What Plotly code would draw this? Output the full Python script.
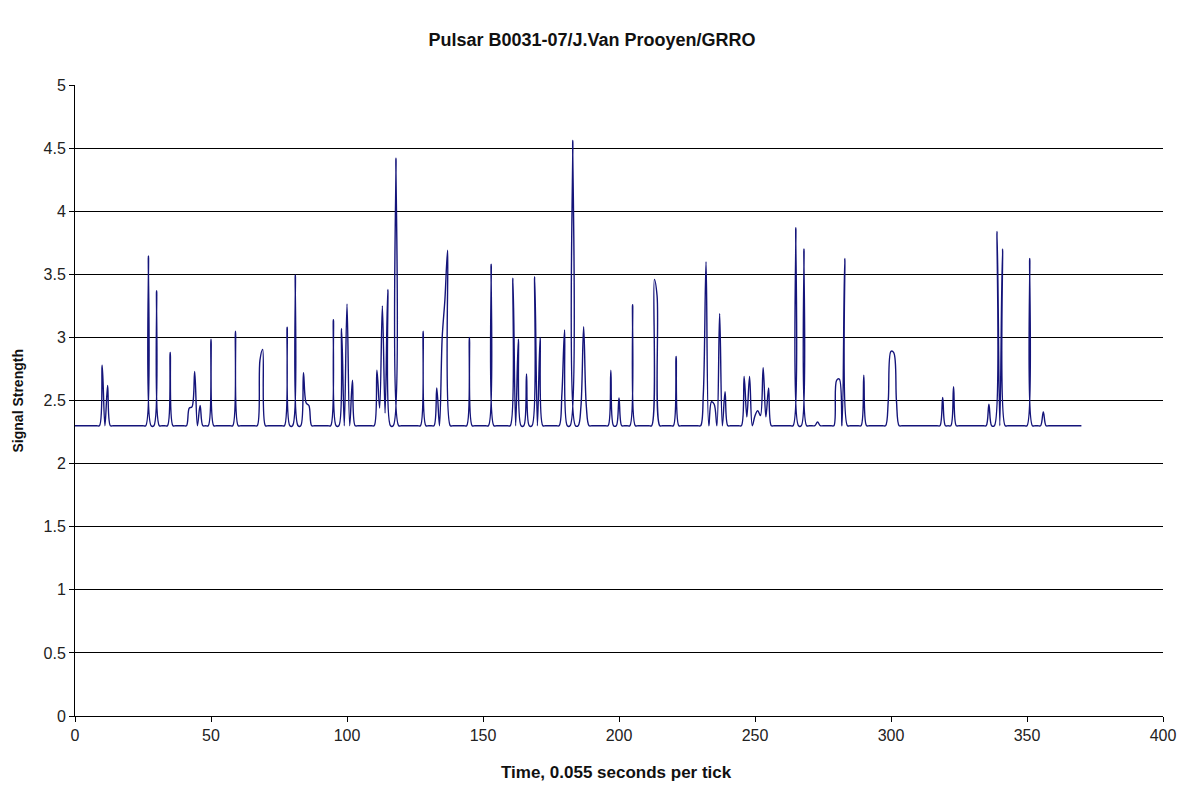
import plotly.graph_objects as go

# Sample index (one tick = 0.055 s) and recorded signal strength
n_ticks = 371
baseline_strength = 2.3

pulse_ticks = [
    10, 12, 27, 30, 35, 42, 43, 44, 46, 50, 59, 68, 69, 78, 81, 84, 85, 86,
    95, 98, 100, 102, 111, 112, 113, 114, 115, 118, 128, 133, 135, 136, 137,
    145, 153, 161, 163, 166, 169, 171, 179, 180, 183, 186, 187, 188, 197, 200,
    205, 213, 214, 221, 231, 232, 234, 235, 237, 239, 246, 247, 248, 250, 251,
    252, 253, 254, 255, 265, 268, 273, 280, 281, 283, 290, 299, 300, 301, 302,
    319, 323, 336, 339, 341, 351, 356,
]
pulse_strength = [
    2.78, 2.62, 3.645, 3.37, 2.88, 2.44, 2.45, 2.73, 2.46, 2.985, 3.05, 2.82, 2.905, 3.08, 3.495, 2.72, 2.48, 2.46,
    3.14, 3.07, 3.265, 2.66, 2.74, 2.44, 3.25, 2.40, 3.38, 4.42, 3.05, 2.60, 3.0, 3.3, 3.69,
    3.0, 3.58, 3.47, 2.985, 2.71, 3.48, 3.0, 2.55, 3.06, 4.56, 2.45, 3.085, 2.45, 2.74, 2.52,
    3.26, 3.46, 3.33, 2.85, 2.55, 3.60, 2.49, 2.47, 3.19, 2.57, 2.69, 2.37, 2.69, 2.38, 2.42,
    2.38, 2.76, 2.37, 2.60, 3.87, 3.70, 2.33, 2.66, 2.67, 3.625, 2.70, 2.5, 2.89, 2.88, 2.5,
    2.525, 2.61, 2.47, 3.84, 3.70, 3.625, 2.41,
]

x_tick_values = [0, 50, 100, 150, 200, 250, 300, 350, 400]

# Full series: quiet level everywhere except the recorded pulses
ticks = list(range(n_ticks))
strength = [baseline_strength] * n_ticks
for t, s in zip(pulse_ticks, pulse_strength):
    strength[t] = s

font_family = "Liberation Sans, Arial, sans-serif"

fig = go.Figure()
fig.add_trace(go.Scatter(
    x=ticks,
    y=strength,
    mode="lines",
    line=dict(color="#14147a", width=1.4, shape="spline", smoothing=1),
    showlegend=False,
    hoverinfo="x+y",
))

axis_common = dict(
    zeroline=False,
    showline=True,
    linecolor="#000000",
    linewidth=1,
    ticks="outside",
    ticklen=5,
    tickcolor="#000000",
    tickfont=dict(size=16, color="#222222"),
    automargin=False,
    ticklabeloverflow="allow",
    fixedrange=True,
)

fig.update_layout(
    width=1184,
    height=785,
    margin=dict(l=75, r=21, t=85, b=69, autoexpand=False),
    paper_bgcolor="white",
    plot_bgcolor="white",
    font=dict(family=font_family, size=15, color="#222222"),
    title=dict(
        text="<b>Pulsar B0031-07/J.Van Prooyen/GRRO</b>",
        x=0.5, xanchor="center", y=0.949, yanchor="middle",
        font=dict(family=font_family, size=18, color="#111111"),
    ),
    xaxis=dict(range=[0, 400], tickvals=x_tick_values, showgrid=False, **axis_common),
    yaxis=dict(range=[0, 5], dtick=0.5, showgrid=True, gridcolor="#000000",
               gridwidth=1, **axis_common),
    annotations=[
        dict(text="<b>Time, 0.055 seconds per tick</b>", xref="paper", yref="paper",
             x=0.498, y=-0.0903, xanchor="center", yanchor="middle", showarrow=False,
             font=dict(family=font_family, size=17, color="#111111")),
        dict(text="<b>Signal Strength</b>", xref="paper", yref="paper",
             x=-0.0524, y=0.5, xanchor="center", yanchor="middle", showarrow=False,
             textangle=-90, font=dict(family=font_family, size=14, color="#111111")),
    ],
)

fig.write_html("out.html")
